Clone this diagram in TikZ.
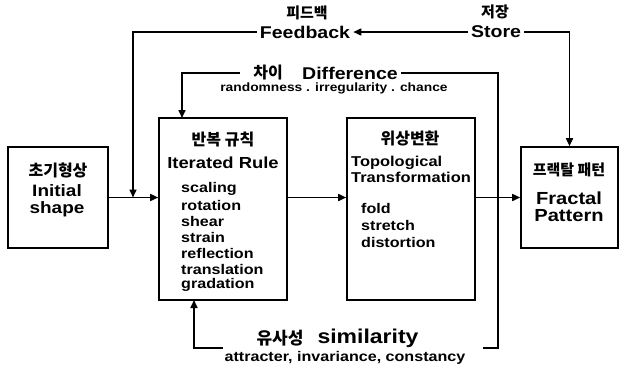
\documentclass[tikz,border=0pt]{standalone}
\usepackage{fontspec}
\setmainfont{Liberation Sans}[FakeStretch=1.15]
\newfontfamily\kor{Noto Sans CJK KR}
\usetikzlibrary{arrows.meta}
\newcommand{\fsz}[1]{\fontsize{#1}{#1}\selectfont}

\tikzset{
  box/.style={draw, line width=1.6pt, inner sep=0pt},
  link/.style={line width=1.6pt},
  tip/.style={-{Triangle[length=8pt,width=7pt]}},
  kr/.style={font=\kor\bfseries\fsz{15}, inner sep=2pt},
  en/.style={font=\bfseries\fsz{17}, inner sep=3pt},
  sub/.style={font=\bfseries\fsz{12}, inner sep=1pt},
  item/.style={font=\bfseries\fsz{14}, anchor=west, inner sep=0pt}
}

\begin{document}
\begin{tikzpicture}[x=1pt,y=-1pt]
    \useasboundingbox (0,0) rectangle (619,365);

    % Boxes
    \node[box, minimum width=100pt, minimum height=101pt] (initbox) at (58,197.5) {};
    \node[box, minimum width=128pt, minimum height=182pt] (rulebox) at (223,209) {};
    \node[box, minimum width=128pt, minimum height=182pt] (topobox) at (411,209) {};
    \node[box, minimum width=97pt, minimum height=101pt] (fracbox) at (569.5,197.5) {};

    % Initial shape
    \node[kr, font=\kor\bfseries\fsz{16}] (initkr) at (58,170) {초기형상};
    \node[en, align=center, inner sep=0pt, font=\bfseries\fontsize{16.5}{17}\selectfont] (initen) at (57,201) {Initial\\shape};

    % Iterated rule
    \node[kr, font=\kor\bfseries\fsz{16}] (rulekr) at (223,140) {반복 규칙};
    \node[en, font=\bfseries\fsz{16}] (ruleen) at (223,163) {Iterated Rule};
    \foreach \w [count=\i] in {scaling,rotation,shear,strain,reflection,translation,gradation}
        \node[item] (rule\i) at (181,173+16*\i) {\w};

    % Topological transformation
    \node[kr, font=\kor\bfseries\fsz{16}] (topokr) at (410,138) {위상변환};
    \node[item, font=\bfseries\fsz{14.3}] (topoA) at (351,163) {Topological};
    \node[item, font=\bfseries\fsz{14.3}] (topoB) at (351,177) {Transformation};
    \foreach \w [count=\i] in {fold,stretch,distortion}
        \node[item] (topo\i) at (361,191+17*\i) {\w};

    % Fractal pattern
    \node[kr] (frackr) at (569,170) {프랙탈 패턴};
    \node[en, align=center, inner sep=0pt, font=\bfseries\fontsize{17.5}{17}\selectfont] (fracen) at (569,207) {Fractal\\Pattern};

    % Feedback and store
    \node[kr] (fbkr) at (307,13) {피드백};
    \node[en] (fbtxt) at (305,32) {Feedback};
    \node[kr] (stkr) at (495,12) {저장};
    \node[en] (sttxt) at (496,32) {Store};

    % Difference
    \node[kr, font=\kor\bfseries\fsz{16}, inner xsep=13pt] (difkr) at (268,73) {차이};
    \node[en] (diftxt) at (350,73) {Difference};
    \node[sub] (difsub) at (334,88) {randomness . irregularity . chance};

    % Similarity
    \node[kr, font=\kor\bfseries\fsz{17}] (simkr) at (280,338) {유사성};
    \node[en, font=\bfseries\fsz{20}] (simtxt) at (368,338) {similarity};
    \node[sub, font=\bfseries\fsz{14}] (simsub) at (345,358) {attracter, invariance, constancy};

    % Free ends
    \coordinate (fbin) at (133,197.5);
    \coordinate (difin) at (182,118);
    \coordinate (simcorner) at (498,348);
    \coordinate (simR) at (483,348);
    \coordinate (simL) at (223,348);
    \coordinate (simin) at (194,300);

    % Main flow
    \draw[link, tip] (initbox) -- (initbox -| rulebox.west);
    \draw[link, tip] (rulebox.east |- initbox) -- (initbox -| topobox.west);
    \draw[link, tip] (topobox.east |- fracbox) -- (fracbox.west);

    % Loops
    \draw[link, tip] (fbtxt.west) -| (fbin);
    \draw[link, tip] (sttxt.west) -- (fbtxt.east);
    \draw[link, tip] (sttxt.east) -| (fracbox.north);
    \draw[link, tip] (difkr.west) -| (difin);
    \draw[link] (diftxt.east) -| (simcorner) -- (simR);
    \draw[link, tip] (simL) -| (simin);
\end{tikzpicture}
\end{document}
